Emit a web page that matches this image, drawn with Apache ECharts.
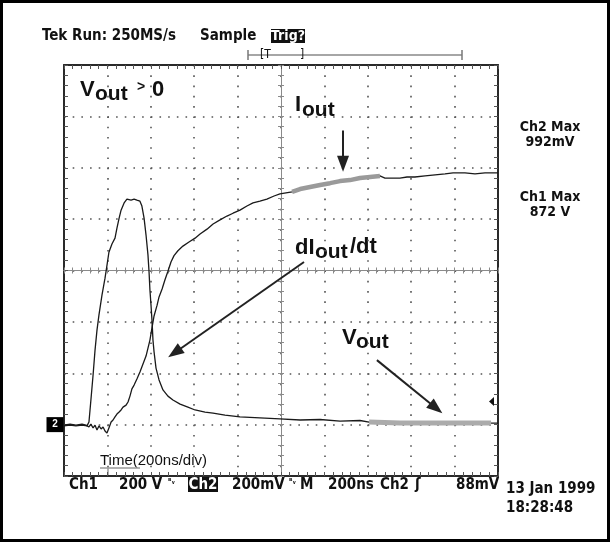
<!DOCTYPE html>
<html><head><meta charset="utf-8">
<script src="https://cdn.jsdelivr.net/npm/echarts@6/dist/echarts.min.js"></script>
<style>html,body{margin:0;padding:0;background:#fff}#c{width:611px;height:543px}</style>
</head><body><div id="c"></div>
<script>
// ---- Data (time in ns relative to screen centre, Ch1 in V, Ch2 in mV) ----
const ch1TimeNs = [-1000,-972,-945,-917,-894,-885,-876,-866,-857,-848,-839,-825,-811,-802,-793,-779,-765,-756,-746,-737,-723,-710,-691,-677,-664,-650,-641,-631,-622,-613,-608,-604,-599,-594,-590,-585,-576,-562,-544,-521,-498,-465,-429,-396,-350,-313,-258,-189,-97,-5,88,180,272,364,406,548,687,825,968,1000];
const ch1Volts  = [-5,-2,-5,-2,-5,10,96,193,290,368,426,504,570,620,671,703,726,765,804,835,863,878,874,878,874,870,851,804,738,660,593,524,465,399,329,283,220,174,135,111,96,80,68,57,49,45,37,30,26,22,18,20,14,16,10,6,6,6,6,6];
const ch2TimeNs = [-1000,-972,-945,-917,-899,-885,-876,-866,-857,-848,-839,-829,-820,-811,-802,-793,-783,-774,-765,-756,-746,-737,-728,-714,-705,-696,-687,-677,-664,-650,-636,-622,-613,-604,-594,-585,-571,-562,-548,-535,-521,-507,-493,-475,-452,-424,-396,-373,-341,-313,-281,-249,-221,-189,-157,-129,-97,-65,-32,-5,23,51,88,134,180,226,272,318,364,410,456,479,511,548,581,617,664,710,756,793,848,894,940,1000];
const ch2MilliVolts = [-2,2,-2,2,-2,-9,2,-13,-2,-21,-5,-17,-9,-25,-33,-13,10,18,30,41,49,57,68,76,88,111,139,154,178,205,236,267,298,329,380,423,465,497,528,563,597,633,658,677,695,711,726,742,761,781,797,812,823,835,851,863,870,878,890,898,902,906,917,925,933,940,948,952,960,964,968,960,960,960,964,964,968,972,976,980,980,976,980,980];
const iOutHighlightNs = [51, 456];
const vOutHighlightNs = [406, 968];
const timeRangeNs = [-1000, 1000];
const voltRange = [-200, 1400];
const divisionRange = [-4, 4];

const headerTexts = ['Tek Run: 250MS/s', 'Sample', 'Trig?'];
const footerTexts = ['Ch1', '200 V', 'Ch2', '200mV', 'M', '200ns', 'Ch2', '88mV'];
const maxTexts = ['Ch2 Max', '992mV', 'Ch1 Max', '872 V'];
const dateTexts = ['13 Jan 1999', '18:28:48'];
const timeLabel = 'Time(200ns/div)';

// ---- build ----
const zip = (a, b) => a.map((v, i) => [v, b[i]]);
const ch1 = zip(ch1TimeNs, ch1Volts);
const ch2 = zip(ch2TimeNs, ch2MilliVolts);
const within = (pts, r) => pts.filter(p => p[0] >= r[0] && p[0] <= r[1]);

const chart = echarts.init(document.getElementById('c'), null, {renderer: 'canvas'});
const TEK = '"DejaVu Sans Condensed","DejaVu Sans",sans-serif';
const TEKW = 'bold condensed ';
const ANN = '"Liberation Sans",Arial,sans-serif';
const HSTEP = 434 / 50, VSTEP = 411 / 40;

function borderX(pos, split) {
  return {type: 'value', min: timeRangeNs[0], max: timeRangeNs[1], interval: 200, position: pos,
    axisLine: {show: true, onZero: false, lineStyle: {color: '#2a2a2a', width: 2}},
    axisTick: {show: true, inside: true, length: 4, lineStyle: {color: '#555', width: 1}},
    minorTick: {show: true, splitNumber: 5, length: 4, lineStyle: {color: '#555', width: 1}},
    axisLabel: {show: false},
    splitLine: {show: split, lineStyle: {color: '#555', width: 1.6, type: [1.6, VSTEP - 1.6]}},
    minorSplitLine: {show: false}};
}
function centerX(pos) {
  return {type: 'value', min: timeRangeNs[0], max: timeRangeNs[1], interval: 200, position: pos,
    axisLine: {show: true, onZero: true, onZeroAxisIndex: 2, lineStyle: {color: '#8a8a8a', width: 1}},
    axisTick: {show: true, inside: false, length: 3, lineStyle: {color: '#8a8a8a', width: 1}},
    minorTick: {show: true, splitNumber: 5, length: 3, lineStyle: {color: '#8a8a8a', width: 1}},
    axisLabel: {show: false}, splitLine: {show: false}};
}
function borderY(pos, split) {
  return {type: 'value', min: voltRange[0], max: voltRange[1], interval: 200, position: pos,
    axisLine: {show: true, onZero: false, lineStyle: {color: '#2a2a2a', width: 2}},
    axisTick: {show: true, inside: true, length: 4, lineStyle: {color: '#555', width: 1}},
    minorTick: {show: true, splitNumber: 5, length: 4, lineStyle: {color: '#555', width: 1}},
    axisLabel: {show: false},
    splitLine: {show: split, lineStyle: {color: '#555', width: 1.6, type: [1.6, HSTEP - 1.6]}},
    minorSplitLine: {show: false}};
}
function centerY(pos) {
  return {type: 'value', min: voltRange[0], max: voltRange[1], interval: 200, position: pos,
    axisLine: {show: true, onZero: true, onZeroAxisIndex: 0, lineStyle: {color: '#8a8a8a', width: 1}},
    axisTick: {show: true, inside: false, length: 3, lineStyle: {color: '#8a8a8a', width: 1}},
    minorTick: {show: true, splitNumber: 5, length: 3, lineStyle: {color: '#8a8a8a', width: 1}},
    axisLabel: {show: false}, splitLine: {show: false}};
}

function txt(text, x, y, font, opts) {
  return {type: 'text', silent: true, style: Object.assign({text: text, x: x, y: y, font: font, fill: '#111', align: 'left', verticalAlign: 'middle'}, opts || {})};
}
const graphics = [
  {type: 'rect', silent: true, shape: {x: 1.5, y: 1.5, width: 607, height: 539}, style: {fill: 'none', stroke: '#000', lineWidth: 3}},
  // header
  txt(headerTexts[0], 42, 36, TEKW + '15px ' + TEK),
  txt(headerTexts[1], 200, 36, TEKW + '15px ' + TEK),
  {type: 'rect', silent: true, shape: {x: 271, y: 29, width: 34, height: 14}, style: {fill: '#111'}},
  txt(headerTexts[2], 288, 36, TEKW + '14px ' + TEK, {fill: '#fff', align: 'center'}),
  // trigger bar
  {type: 'line', silent: true, shape: {x1: 248, y1: 55, x2: 462, y2: 55}, style: {stroke: '#888', lineWidth: 1.5}},
  {type: 'line', silent: true, shape: {x1: 248, y1: 50, x2: 248, y2: 60}, style: {stroke: '#777', lineWidth: 1.5}},
  {type: 'line', silent: true, shape: {x1: 462, y1: 50, x2: 462, y2: 60}, style: {stroke: '#777', lineWidth: 1.5}},
  txt('[T', 260, 55, '12px ' + TEK),
  txt(']', 300, 55, '12px ' + TEK),
  // annotations
  txt('V', 80, 90, 'bold 22px ' + ANN),
  txt('out', 95, 94, 'bold 21px ' + ANN),
  txt('>', 137, 87, 'bold 14px ' + ANN),
  txt('0', 152, 90, 'bold 22px ' + ANN),
  txt('I', 295, 105, 'bold 22px ' + ANN),
  txt('out', 302, 110, 'bold 21px ' + ANN),
  txt('dI', 295, 248, 'bold 22px ' + ANN),
  txt('out', 315, 252, 'bold 21px ' + ANN),
  txt('/dt', 350, 247, 'bold 22px ' + ANN),
  txt('V', 342, 338, 'bold 22px ' + ANN),
  txt('out', 356, 342, 'bold 21px ' + ANN),
  // trigger level marker
  {type: 'polygon', silent: true, shape: {points: [[494, 397], [494, 406], [489, 401.5]]}, style: {fill: '#111'}},
  // right side
  txt(maxTexts[0], 550, 127, TEKW + '14px ' + TEK, {align: 'center'}),
  txt(maxTexts[1], 550, 142, TEKW + '14px ' + TEK, {align: 'center'}),
  txt(maxTexts[2], 550, 197, TEKW + '14px ' + TEK, {align: 'center'}),
  txt(maxTexts[3], 550, 212, TEKW + '14px ' + TEK, {align: 'center'}),
  // time label
  txt(timeLabel, 100, 461, '15px ' + ANN),
  {type: 'line', silent: true, shape: {x1: 100, y1: 468, x2: 140, y2: 468}, style: {stroke: '#999', lineWidth: 1.5}},
  {type: 'line', silent: true, shape: {x1: 108, y1: 468, x2: 108, y2: 476}, style: {stroke: '#999', lineWidth: 1.5}},
  // footer
  txt(footerTexts[0], 69, 485, TEKW + '15px ' + TEK),
  txt(footerTexts[1], 119, 485, TEKW + '15px ' + TEK),
  txt('\u1D2Eᵥ', 168, 482, 'bold 8px ' + TEK),
  {type: 'rect', silent: true, shape: {x: 188, y: 477, width: 30, height: 15}, style: {fill: '#111'}},
  txt(footerTexts[2], 203, 485, TEKW + '15px ' + TEK, {fill: '#fff', align: 'center'}),
  txt(footerTexts[3], 232, 485, TEKW + '15px ' + TEK),
  txt('\u1D2Eᵥ', 289, 482, 'bold 8px ' + TEK),
  txt(footerTexts[4], 300, 485, TEKW + '15px ' + TEK),
  txt(footerTexts[5], 328, 485, TEKW + '15px ' + TEK),
  txt(footerTexts[6], 380, 485, TEKW + '15px ' + TEK),
  txt('ʃ', 415, 485, TEKW + '15px ' + TEK),
  txt(footerTexts[7], 456, 485, TEKW + '15px ' + TEK),
  txt(dateTexts[0], 506, 489, TEKW + '15px ' + TEK),
  txt(dateTexts[1], 506, 508, TEKW + '15px ' + TEK)
];

const arrowStyle = {color: '#222', width: 2, type: 'solid'};
const option = {
  animation: false,
  backgroundColor: '#fff',
  grid: {left: 64, top: 65, width: 434, height: 411, containLabel: false},
  xAxis: [borderX('bottom', true), borderX('top', false), centerX('bottom'), centerX('top')],
  yAxis: [borderY('left', true), borderY('right', false),
          {type: 'value', min: divisionRange[0], max: divisionRange[1], show: false},
          centerY('left'), centerY('right')],
  series: [
    {name: 'Ch1', type: 'line', xAxisIndex: 0, yAxisIndex: 0, data: ch1, showSymbol: false, symbol: 'none', z: 3,
     lineStyle: {color: '#1a1a1a', width: 1.3}, silent: true,
     markLine: {silent: true, symbol: ['none', 'triangle'], symbolSize: [12, 16], label: {show: false},
       lineStyle: arrowStyle, itemStyle: {color: '#222'}, emphasis: {disabled: true},
       data: [
         [{coord: [286, 1145]}, {coord: [286, 1016]}],
         [{coord: [106, 633]}, {coord: [-490, 280]}],
         [{coord: [442, 251]}, {coord: [715, 64]}]
       ]}},
    {name: 'Ch2', type: 'line', xAxisIndex: 0, yAxisIndex: 1, data: ch2, showSymbol: false, symbol: 'none', z: 3,
     lineStyle: {color: '#1a1a1a', width: 1.3}, silent: true,
     markPoint: {silent: true, symbol: 'rect', symbolSize: [17, 15], symbolOffset: [-9, 0],
       itemStyle: {color: '#000'}, label: {show: true, formatter: '2', color: '#fff', fontSize: 10, fontWeight: 'bold', position: 'inside'},
       data: [{coord: [timeRangeNs[0], 0]}]}},
    {name: 'Iout highlight', type: 'line', xAxisIndex: 0, yAxisIndex: 1, data: within(ch2, iOutHighlightNs), showSymbol: false, symbol: 'none', z: 4,
     lineStyle: {color: '#9a9a9a', width: 4.5}, silent: true},
    {name: 'Vout highlight', type: 'line', xAxisIndex: 0, yAxisIndex: 0, data: within(ch1, vOutHighlightNs), showSymbol: false, symbol: 'none', z: 4,
     lineStyle: {color: '#ababab', width: 5}, silent: true}
  ],
  graphic: graphics
};
chart.setOption(option);
</script></body></html>
